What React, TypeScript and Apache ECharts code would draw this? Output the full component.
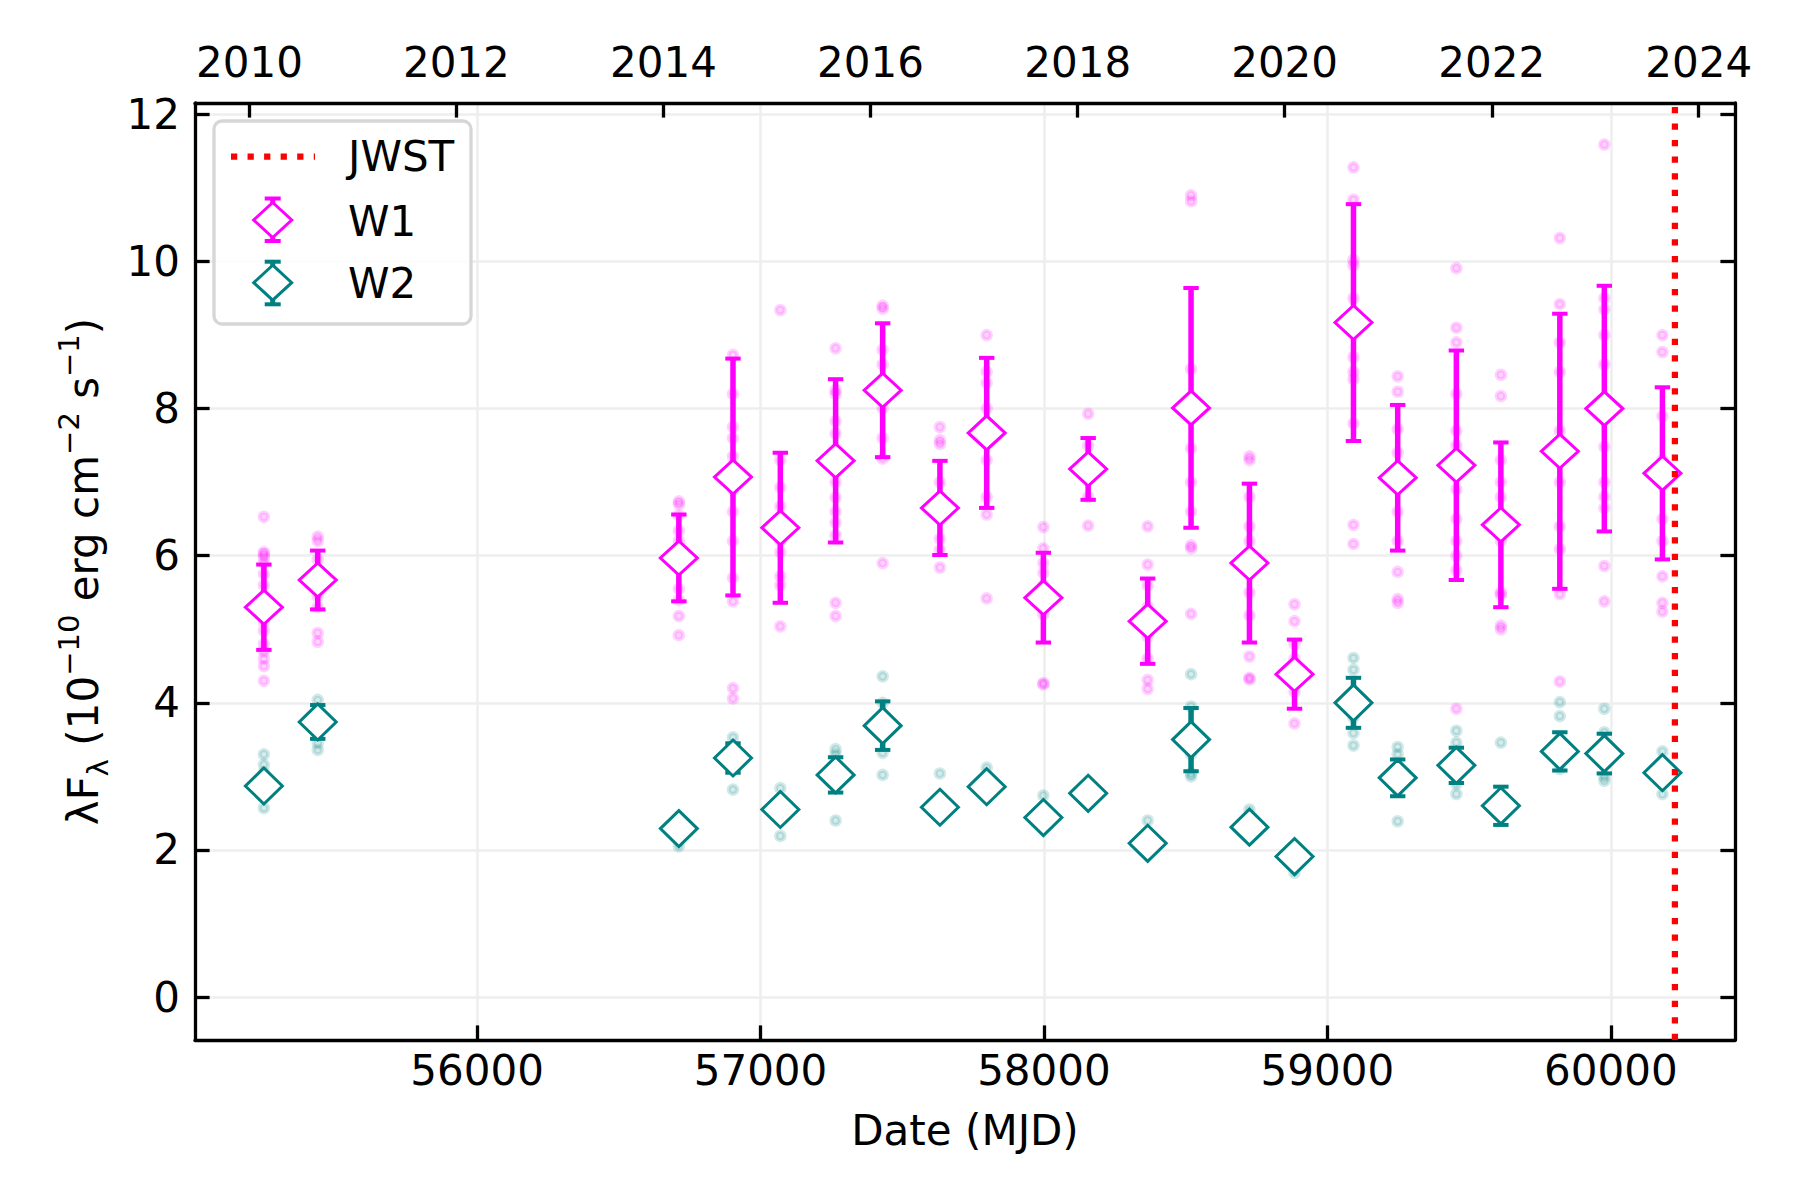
import React, { useEffect, useRef } from "react";
import * as echarts from "echarts";

// ---------------- data ----------------
const epochMJD = [
  55248, 55438, 56712, 56903, 57070, 57265, 57431, 57633, 57798, 57998, 58156,
  58366, 58519, 58725, 58884, 59092, 59248, 59455, 59612, 59820, 59977, 60182,
];
const w1Mean = [
  5.3, 5.67, 5.97, 7.07, 6.38, 7.29, 8.25, 6.65, 7.67, 5.43, 7.18, 5.11, 8.01,
  5.9, 4.39, 9.17, 7.06, 7.23, 6.42, 7.42, 8.0, 7.12,
];
const w1Err = [
  0.58, 0.4, 0.59, 1.61, 1.02, 1.11, 0.91, 0.64, 1.02, 0.61, 0.42, 0.58, 1.63,
  1.08, 0.47, 1.61, 0.99, 1.56, 1.12, 1.87, 1.67, 1.17,
];
const w2Mean = [
  2.87, 3.74, 2.29, 3.25, 2.55, 3.02, 3.69, 2.58, 2.86, 2.44, 2.77, 2.09, 3.5,
  2.31, 1.91, 4.0, 2.98, 3.15, 2.6, 3.34, 3.31, 3.05,
];
const w2Err = [
  0.12, 0.23, 0.08, 0.2, 0.1, 0.24, 0.33, 0.08, 0.1, 0.1, 0.08, 0.08, 0.43,
  0.1, 0.1, 0.34, 0.25, 0.24, 0.26, 0.26, 0.27, 0.1,
];
const w1Raw = [
  [6.53, 6.05, 6.02, 5.98, 5.9, 5.75, 5.6, 5.45, 5.1, 4.98, 4.8, 4.7, 4.6, 4.5, 4.3],
  [6.26, 6.2, 5.95, 5.8, 5.45, 5.3, 4.95, 4.83],
  [6.74, 6.7, 6.55, 6.34, 6.2, 5.9, 5.55, 5.4, 5.18, 4.92],
  [8.73, 8.2, 7.75, 7.6, 7.35, 6.9, 6.6, 6.2, 5.7, 5.38, 4.2, 4.06],
  [9.34, 7.3, 6.93, 6.67, 6.2, 6.05, 5.72, 5.6, 5.04],
  [8.82, 8.25, 8.2, 7.83, 7.66, 7.0, 6.79, 6.6, 6.45, 6.28, 5.36, 5.18],
  [9.4, 9.36, 8.8, 8.6, 8.0, 7.6, 7.32, 5.9],
  [7.75, 7.57, 7.52, 7.0, 6.8, 6.23, 6.08, 5.84],
  [9.0, 8.5, 8.35, 8.0, 7.3, 6.8, 6.56, 5.42],
  [6.39, 6.1, 5.9, 5.77, 5.6, 5.2, 4.27, 4.25],
  [7.93, 7.5, 7.3, 7.05, 6.8, 6.41],
  [6.4, 5.88, 5.6, 5.3, 4.9, 4.6, 4.31, 4.19],
  [10.9, 10.82, 8.54, 8.0, 7.46, 7.0, 6.6, 6.14, 6.1, 5.21],
  [7.35, 7.3, 6.8, 6.4, 6.2, 5.5, 5.19, 4.63, 4.34, 4.32],
  [5.34, 5.11, 4.8, 4.6, 4.15, 3.72],
  [11.28, 10.84, 10.02, 9.95, 9.5, 8.7, 8.5, 8.4, 7.8, 6.42, 6.16],
  [8.44, 8.23, 7.72, 7.4, 7.0, 6.6, 6.2, 5.78, 5.41, 5.36],
  [9.91, 9.1, 8.9, 8.2, 7.7, 7.5, 6.9, 6.5, 6.2, 6.0, 5.8, 3.92],
  [8.46, 8.17, 7.3, 7.0, 6.8, 6.2, 5.5, 5.47, 5.05, 5.0],
  [10.32, 9.42, 8.9, 8.5, 7.7, 7.0, 6.4, 6.09, 5.48, 4.29],
  [11.59, 9.5, 9.35, 9.0, 8.6, 7.48, 7.0, 6.8, 6.65, 5.86, 5.38],
  [9.0, 8.77, 7.9, 7.3, 7.0, 6.5, 6.2, 5.72, 5.36, 5.24],
];
const w2Raw = [
  [3.3, 3.16, 3.05, 2.9, 2.57],
  [4.04, 3.9, 3.6, 3.45, 3.36],
  [2.35, 2.25, 2.05],
  [3.53, 3.4, 3.1, 2.82],
  [2.84, 2.6, 2.5, 2.19],
  [3.37, 3.3, 3.1, 2.9, 2.4],
  [4.36, 4.0, 3.6, 3.32, 3.02],
  [3.04, 2.6, 2.5],
  [3.12, 2.9, 2.8],
  [2.74, 2.5, 2.35],
  [2.9, 2.75, 2.65],
  [2.4, 2.1, 2.0],
  [4.39, 3.95, 3.6, 3.3, 3.04, 3.0],
  [2.55, 2.3, 2.2],
  [2.0, 1.85, 1.69],
  [4.61, 4.45, 4.1, 3.8, 3.59, 3.42],
  [3.4, 3.3, 2.8, 2.39],
  [3.62, 3.46, 3.2, 2.9, 2.76],
  [3.46, 2.7, 2.5],
  [4.01, 3.82, 3.5, 3.2, 3.1],
  [3.92, 3.6, 3.4, 3.0, 2.94],
  [3.34, 3.1, 2.9, 2.76],
];
const jwstMJD = [60226];
const mjdTicks = [56000, 57000, 58000, 59000, 60000];
const yTicks = [0, 2, 4, 6, 8, 10, 12];
const yearTicks = [2010, 2012, 2014, 2016, 2018, 2020, 2022, 2024];
const xMin = 55005;
const xMax = 60438;
const yMin = -0.584;
const yMax = 12.155;

// ---------------- styles ----------------
const FONT = "'DejaVu Sans', sans-serif";
const FS = 42;
const W1C = "#ff00ff";
const W2C = "#008080";
const AXW = 3.3;
const TICKLEN = 14.6;
const GRIDC = "#eeeeee";

const mjdOfYear = (y: number) =>
  (Date.UTC(y, 0, 1) - Date.UTC(1858, 10, 17)) / 86400000;
const yearMJD = yearTicks.map(mjdOfYear);

const errRender = (color: string) => (params: any, api: any) => {
  const x = api.value(0);
  const lo = api.value(1);
  const hi = api.value(2);
  const p1 = api.coord([x, hi]);
  const p2 = api.coord([x, lo]);
  const cap = 7.7;
  return {
    type: "group",
    children: [
      { type: "line", shape: { x1: p1[0], y1: p1[1], x2: p2[0], y2: p2[1] }, style: { stroke: color, lineWidth: 5.5 } },
      { type: "line", shape: { x1: p1[0] - cap, y1: p1[1], x2: p1[0] + cap, y2: p1[1] }, style: { stroke: color, lineWidth: 4 } },
      { type: "line", shape: { x1: p2[0] - cap, y1: p2[1], x2: p2[0] + cap, y2: p2[1] }, style: { stroke: color, lineWidth: 4 } },
    ],
  };
};

const diamondPts = (cx: number, cy: number, hw: number, hh: number) => [
  [cx, cy - hh], [cx + hw, cy], [cx, cy + hh], [cx - hw, cy],
];

const legendEntry = (color: string, cx: number, cy: number, eTop: number, eBot: number) => [
  { type: "line", z: 101, shape: { x1: cx, y1: eTop, x2: cx, y2: eBot }, style: { stroke: color, lineWidth: 5 } },
  { type: "line", z: 101, shape: { x1: cx - 8, y1: eTop, x2: cx + 8, y2: eTop }, style: { stroke: color, lineWidth: 4 } },
  { type: "line", z: 101, shape: { x1: cx - 8, y1: eBot, x2: cx + 8, y2: eBot }, style: { stroke: color, lineWidth: 4 } },
  { type: "polygon", z: 102, shape: { points: diamondPts(cx, cy, 19, 17.5) }, style: { fill: "#fff", stroke: color, lineWidth: 3 } },
];

export default function App() {
  const ref = useRef<HTMLDivElement>(null);
  useEffect(() => {
    document.body.style.margin = "0";
    const chart = echarts.init(ref.current!, null, { renderer: "svg" });

    const w1RawData = epochMJD.flatMap((m, i) => w1Raw[i].map((v) => [m, v]));
    const w2RawData = epochMJD.flatMap((m, i) => w2Raw[i].map((v) => [m, v]));
    const w1Mid = epochMJD.map((m, i) => [m, w1Mean[i]]);
    const w2Mid = epochMJD.map((m, i) => [m, w2Mean[i]]);
    const w1Bars = epochMJD.map((m, i) => [m, w1Mean[i] - w1Err[i], w1Mean[i] + w1Err[i]]);
    const w2Bars = epochMJD.map((m, i) => [m, w2Mean[i] - w2Err[i], w2Mean[i] + w2Err[i]]);

    const yearLabel = new Map<number, string>();
    yearMJD.forEach((m, i) => yearLabel.set(m, String(yearTicks[i])));

    const axisLine = { show: true, onZero: false, lineStyle: { color: "#000", width: AXW } };
    const tickStyle = { show: true, inside: true, length: TICKLEN, lineStyle: { color: "#000", width: AXW } };
    const labelStyle = { color: "#000", fontSize: FS, fontFamily: FONT };

    chart.setOption({
      animation: false,
      backgroundColor: "#fff",
      grid: { left: 195, top: 103, width: 1540, height: 937, containLabel: false },
      xAxis: [
        {
          type: "value",
          position: "bottom",
          min: xMin,
          max: xMax,
          axisLine,
          axisTick: { ...tickStyle, customValues: mjdTicks },
          axisLabel: { ...labelStyle, margin: 9, customValues: mjdTicks, formatter: (v: number) => String(v) },
          splitLine: { show: true, lineStyle: { color: GRIDC, width: 2.5 } },
          name: "Date (MJD)",
          nameLocation: "middle",
          nameGap: 69,
          nameMoveOverlap: false,
          nameTextStyle: { ...labelStyle },
        },
        {
          type: "value",
          position: "top",
          min: xMin,
          max: xMax,
          axisLine,
          axisTick: { ...tickStyle, customValues: yearMJD },
          axisLabel: {
            ...labelStyle,
            margin: 20,
            customValues: yearMJD,
            formatter: (v: number) => yearLabel.get(v) ?? String(Math.round(2000 + (v - 51544) / 365.25)),
          },
          splitLine: { show: false },
        },
      ],
      yAxis: [
        {
          type: "value",
          position: "left",
          min: yMin,
          max: yMax,
          axisLine,
          axisTick: { ...tickStyle, customValues: yTicks },
          axisLabel: { ...labelStyle, margin: 15, customValues: yTicks, formatter: (v: number) => String(v) },
          splitLine: { show: true, lineStyle: { color: GRIDC, width: 2.5 } },
          name: "{a|λF}{sub|λ}{a| (10}{sup|−10}{a| erg cm}{sup|−2}{a| s}{sup|−1}{a|)}",
          nameLocation: "middle",
          nameRotate: 90,
          nameGap: 83,
          nameMoveOverlap: false,
          nameTextStyle: {
            color: "#000",
            fontFamily: FONT,
            fontSize: FS,
            rich: {
              a: { fontSize: FS, fontFamily: FONT, color: "#000", lineHeight: 58 },
              sup: { fontSize: 29, fontFamily: FONT, color: "#000", lineHeight: 29, verticalAlign: "top" },
              sub: { fontSize: 29, fontFamily: FONT, color: "#000", lineHeight: 29, verticalAlign: "bottom" },
            },
          },
        },
        {
          type: "value",
          position: "right",
          min: yMin,
          max: yMax,
          axisLine,
          axisTick: { ...tickStyle, customValues: yTicks },
          axisLabel: { show: false },
          splitLine: { show: false },
        },
      ],
      series: [
        {
          name: "W1 raw",
          type: "scatter",
          data: w1RawData,
          symbol: "circle",
          symbolSize: 8.5,
          itemStyle: { color: "rgba(255,0,255,0.2)", borderColor: "rgba(255,0,255,0.22)", borderWidth: 4 },
          z: 1,
          silent: true,
        },
        {
          name: "W2 raw",
          type: "scatter",
          data: w2RawData,
          symbol: "circle",
          symbolSize: 8.5,
          itemStyle: { color: "rgba(0,128,128,0.2)", borderColor: "rgba(0,128,128,0.22)", borderWidth: 4 },
          z: 1,
          silent: true,
        },
        {
          name: "W1 err",
          type: "custom",
          data: w1Bars,
          encode: { x: 0, y: [1, 2] },
          renderItem: errRender(W1C),
          z: 3,
          silent: true,
        },
        {
          name: "W2 err",
          type: "custom",
          data: w2Bars,
          encode: { x: 0, y: [1, 2] },
          renderItem: errRender(W2C),
          z: 3,
          silent: true,
        },
        {
          name: "W1",
          type: "scatter",
          data: w1Mid,
          symbol: "diamond",
          symbolSize: [37, 34],
          itemStyle: { color: "#fff", borderColor: W1C, borderWidth: 3, opacity: 1 },
          z: 4,
          silent: true,
        },
        {
          name: "W2",
          type: "scatter",
          data: w2Mid,
          symbol: "diamond",
          symbolSize: [37, 36],
          itemStyle: { color: "#fff", borderColor: W2C, borderWidth: 3, opacity: 1 },
          z: 4,
          silent: true,
        },
        {
          name: "JWST",
          type: "custom",
          data: jwstMJD.map((m) => [m, 0]),
          encode: { x: 0, y: 1 },
          renderItem: (params: any, api: any) => {
            const cs = params.coordSys;
            const px = api.coord([api.value(0), 0])[0];
            return {
              type: "line",
              shape: { x1: px, y1: cs.y + cs.height, x2: px, y2: cs.y },
              style: { stroke: "#ff0000", lineWidth: 6.25, lineDash: [6.25, 10.3] },
            };
          },
          z: 6,
          silent: true,
        },
      ],
      graphic: [
        {
          type: "rect",
          z: 100,
          shape: { x: 214, y: 121, width: 257, height: 203, r: 8 },
          style: { fill: "rgba(255,255,255,0.8)", stroke: "#d6d6d6", lineWidth: 3.3 },
        },
        {
          type: "line",
          z: 101,
          shape: { x1: 231, y1: 156.7, x2: 315, y2: 156.7 },
          style: { stroke: "#ff0000", lineWidth: 6.25, lineDash: [6.25, 10.3] },
        },
        { type: "text", z: 101, x: 348, y: 156, style: { text: "JWST", fill: "#000", fontSize: FS, fontFamily: FONT, verticalAlign: "middle" } },
        ...legendEntry(W1C, 272.7, 220, 198.5, 241),
        { type: "text", z: 101, x: 348, y: 221, style: { text: "W1", fill: "#000", fontSize: FS, fontFamily: FONT, verticalAlign: "middle" } },
        ...legendEntry(W2C, 272.7, 282.7, 261.7, 304.3),
        { type: "text", z: 101, x: 348, y: 283, style: { text: "W2", fill: "#000", fontSize: FS, fontFamily: FONT, verticalAlign: "middle" } },
      ],
    });
    return () => chart.dispose();
  }, []);
  return (
    <div
      ref={ref}
      style={{ position: "fixed", left: 0, top: 0, width: 1800, height: 1200, background: "#fff" }}
    />
  );
}
